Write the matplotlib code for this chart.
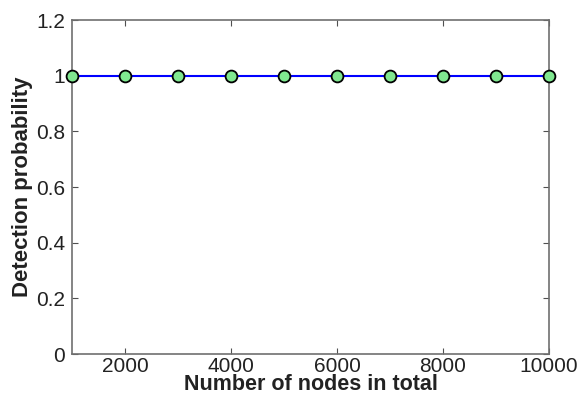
import matplotlib
matplotlib.use('Agg')
import matplotlib.pyplot as plt

# Данные
nodes = [1000, 2000, 3000, 4000, 5000, 6000, 7000, 8000, 9000, 10000]
detection = [1, 1, 1, 1, 1, 1, 1, 1, 1, 1]

plt.rcParams['font.family'] = ['Liberation Sans', 'DejaVu Sans']

fig = plt.figure(figsize=(5.82, 3.97), dpi=100)
ax = fig.add_axes([0.1237, 0.1083, 0.8196, 0.8413])

ax.plot(nodes, detection, color='blue', linewidth=1.5, marker='o',
        markersize=8.5, markerfacecolor='#80e890', markeredgecolor='black',
        markeredgewidth=1.3, clip_on=False, zorder=3)

ax.set_xlim(1000, 10000)
ax.set_ylim(0, 1.2)
ax.set_xticks([2000, 4000, 6000, 8000, 10000])
ax.set_yticks([0, 0.2, 0.4, 0.6, 0.8, 1, 1.2])
ax.set_yticklabels(['0', '0.2', '0.4', '0.6', '0.8', '1', '1.2'])

for s in ax.spines.values():
    s.set_color('#707070')
    s.set_linewidth(1.2)
ax.tick_params(direction='in', length=4, color='#505050', labelsize=15,
               labelcolor='#222222', top=True, right=True, pad=5)
ax.tick_params(axis='x', pad=2)

ax.set_xlabel('Number of nodes in total', fontsize=15.5, fontweight='bold',
              labelpad=-1, color='#222222')
ax.set_ylabel('Detection probability', fontsize=16, fontweight='bold',
              labelpad=2, color='#222222')

fig.savefig('out.png', dpi=100)
